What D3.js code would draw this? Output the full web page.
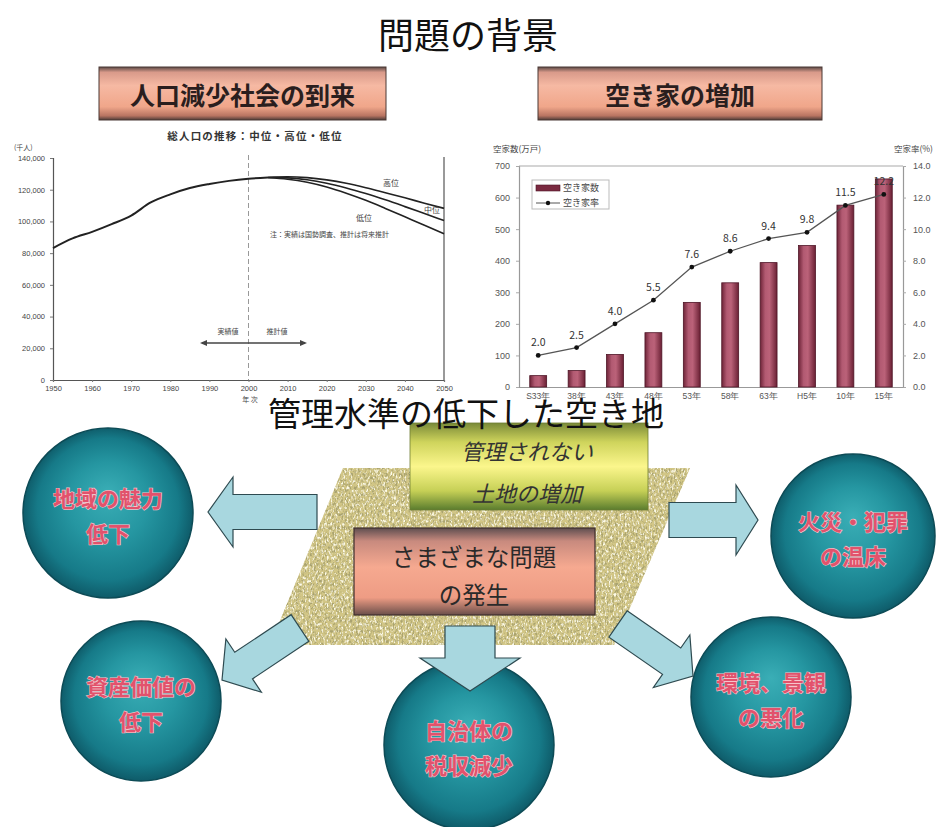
<!DOCTYPE html>
<html lang="ja">
<head>
<meta charset="utf-8">
<script src="https://cdn.jsdelivr.net/npm/d3@7/dist/d3.min.js"></script>
<style>
  html, body { margin: 0; padding: 0; background: #ffffff; }
  svg { display: block; font-family: "Noto Sans CJK JP", "Noto Sans", sans-serif; }
</style>
</head>
<body>
<script>
// ---- 総人口の推移 (千人) ----
const popYearsActual = [1950, 1955, 1960, 1965, 1970, 1975, 1980, 1985, 1990, 1995, 2000, 2005];
const popActual      = [83200, 89276, 93419, 98275, 103720, 111940, 117060, 121049, 123611, 125570, 126926, 127708];
const projYears = [2005, 2010, 2015, 2020, 2025, 2030, 2035, 2040, 2045, 2050];
const popHigh   = [127900, 128140, 127600, 126200, 124100, 121300, 118100, 114900, 111500, 108254];
const popMid    = [127708, 127473, 126266, 124107, 121136, 117580, 113602, 109338, 104960, 100593];
const popLow    = [127500, 126600, 124700, 121700, 117800, 113300, 108200, 102900, 97600, 92203];
const popTicks  = [0, 20000, 40000, 60000, 80000, 100000, 120000, 140000];
const yearTicks = [1950, 1960, 1970, 1980, 1990, 2000, 2010, 2020, 2030, 2040, 2050];

// ---- 空き家数 (万戸) と 空き家率 (%) ----
const houseCats     = ["S33年", "38年", "43年", "48年", "53年", "58年", "63年", "H5年", "10年", "15年"];
const vacantHouses  = [36, 52, 103, 172, 268, 330, 394, 448, 576, 659];
const vacancyRate   = [2.0, 2.5, 4.0, 5.5, 7.6, 8.6, 9.4, 9.8, 11.5, 12.2];
const houseTicks    = [0, 100, 200, 300, 400, 500, 600, 700];
const rateTicks     = [0, 2, 4, 6, 8, 10, 12, 14];

// ---- 問題の連鎖 ----
const outcomeLines = [
  ["地域の魅力", "低下"],
  ["火災・犯罪", "の温床"],
  ["資産価値の", "低下"],
  ["自治体の", "税収減少"],
  ["環境、景観", "の悪化"]
];

const W = 936, H = 827;
const svg = d3.select("body").append("svg").attr("width", W).attr("height", H);
const defs = svg.append("defs");

// gradients
function vGrad(id, stops) {
  const g = defs.append("linearGradient").attr("id", id)
    .attr("x1", 0).attr("y1", 0).attr("x2", 0).attr("y2", 1);
  stops.forEach(([o, c]) => g.append("stop").attr("offset", o).attr("stop-color", c));
}
vGrad("banner", [[0, "#5c4a46"], [0.1, "#d99a8a"], [0.35, "#f6b9a3"], [0.75, "#f0a68a"], [0.92, "#b87462"], [1, "#4e3c38"]]);
vGrad("yellowBox", [[0, "#7a8a38"], [0.22, "#cfd45c"], [0.5, "#fbf68c"], [0.78, "#c6d056"], [1, "#5a7c2e"]]);
vGrad("salmonBox", [[0, "#5e4e50"], [0.15, "#c88a7e"], [0.45, "#f6a990"], [0.8, "#ee9c84"], [1, "#6a4e4a"]]);

const barGrad = defs.append("linearGradient").attr("id", "barGrad")
  .attr("x1", 0).attr("y1", 0).attr("x2", 1).attr("y2", 0);
[[0, "#6e2438"], [0.3, "#b25a72"], [0.55, "#bb6279"], [1, "#6a2034"]]
  .forEach(([o, c]) => barGrad.append("stop").attr("offset", o).attr("stop-color", c));

const sphere = defs.append("radialGradient").attr("id", "sphere")
  .attr("cx", "50%").attr("cy", "50%").attr("r", "52%").attr("fx", "50%").attr("fy", "38%");
[[0, "#3aaeb6"], [0.45, "#2596a1"], [0.8, "#167a88"], [1, "#0d5563"]]
  .forEach(([o, c]) => sphere.append("stop").attr("offset", o).attr("stop-color", c));

// grainy beige texture for the vacant-land plot
const grain = defs.append("filter").attr("id", "grain")
  .attr("x", 0).attr("y", 0).attr("width", "100%").attr("height", "100%");
grain.append("feTurbulence").attr("type", "fractalNoise").attr("baseFrequency", "0.55 0.3")
  .attr("numOctaves", 3).attr("seed", 11).attr("result", "noise");
grain.append("feColorMatrix").attr("in", "noise").attr("type", "matrix")
  .attr("values", "0 0 0 0 0.40  0 0 0 0 0.37  0 0 0 0 0.16  4 0 0 0 -1.85")
  .attr("result", "dark");
grain.append("feColorMatrix").attr("in", "noise").attr("type", "matrix")
  .attr("values", "0 0 0 0 0.98  0 0 0 0 0.96  0 0 0 0 0.80  0 -4 0 0 1.9")
  .attr("result", "light");
grain.append("feComposite").attr("in", "dark").attr("in2", "SourceGraphic").attr("operator", "in").attr("result", "darkIn");
grain.append("feComposite").attr("in", "light").attr("in2", "SourceGraphic").attr("operator", "in").attr("result", "lightIn");
const merge = grain.append("feMerge");
merge.append("feMergeNode").attr("in", "SourceGraphic");
merge.append("feMergeNode").attr("in", "darkIn");
merge.append("feMergeNode").attr("in", "lightIn");

// ---- 見出し ----
svg.append("text").attr("x", 468).attr("y", 49).attr("text-anchor", "middle")
  .attr("font-size", 36).attr("fill", "#111").text("問題の背景");

function banner(x, w, label) {
  svg.append("rect").attr("x", x).attr("y", 67).attr("width", w).attr("height", 53)
    .attr("fill", "url(#banner)").attr("stroke", "#4a3834").attr("stroke-width", 1);
  svg.append("text").attr("x", x + w / 2).attr("y", 94).attr("text-anchor", "middle")
    .attr("dominant-baseline", "central").attr("font-size", 25).attr("font-weight", 700)
    .attr("fill", "#2a1e1e").text(label);
}
banner(99, 287, "人口減少社会の到来");
banner(538, 284, "空き家の増加");

// ---- 左: 総人口の推移 ----
const px = d3.scaleLinear().domain([1950, 2050]).range([53, 444]);
const py = d3.scaleLinear().domain([0, 140000]).range([380, 158]);
const lc = svg.append("g").attr("fill", "#444");

lc.append("text").attr("x", 255).attr("y", 140).attr("text-anchor", "middle")
  .attr("font-size", 10.5).attr("font-weight", 700).attr("letter-spacing", 1.2)
  .attr("fill", "#333").text("総人口の推移：中位・高位・低位");
lc.append("text").attr("x", 14).attr("y", 150).attr("font-size", 7).text("(千人)");

const pyAxis = lc.append("g").attr("transform", "translate(53,0)")
  .call(d3.axisLeft(py).tickValues(popTicks).tickFormat(d3.format(",")).tickSize(3));
pyAxis.select(".domain").attr("stroke", "#555").attr("stroke-width", 1.2);
pyAxis.selectAll(".tick line").attr("stroke", "#777");
pyAxis.selectAll("text").attr("font-size", 7.5).attr("fill", "#444").attr("x", -8);

const pxAxis = lc.append("g").attr("transform", "translate(0,380)")
  .call(d3.axisBottom(px).tickValues(yearTicks).tickFormat(d3.format("d")).tickSize(2));
pxAxis.select(".domain").attr("stroke", "#555").attr("stroke-width", 1.2);
pxAxis.selectAll(".tick line").attr("stroke", "#777");
pxAxis.selectAll("text").attr("font-size", 7.5).attr("fill", "#444").attr("y", 6);

lc.append("line").attr("x1", 444).attr("x2", 444).attr("y1", 157).attr("y2", 380)
  .attr("stroke", "#555").attr("stroke-width", 1.2);
lc.append("line").attr("x1", px(2000)).attr("x2", px(2000)).attr("y1", 155).attr("y2", 380)
  .attr("stroke", "#999").attr("stroke-dasharray", "5,3");
lc.append("text").attr("x", 250).attr("y", 402).attr("text-anchor", "middle")
  .attr("font-size", 7).text("年 次");

const popLine = d3.line().curve(d3.curveMonotoneX);
lc.append("path").attr("d", popLine(popYearsActual.map((y, i) => [px(y), py(popActual[i])])))
  .attr("fill", "none").attr("stroke", "#222").attr("stroke-width", 2);
[popHigh, popMid, popLow].forEach(series => {
  lc.append("path").attr("d", popLine(projYears.map((y, i) => [px(y), py(series[i])])))
    .attr("fill", "none").attr("stroke", "#222").attr("stroke-width", 1.6);
});
lc.append("text").attr("x", 383).attr("y", 186).attr("font-size", 8).text("高位");
lc.append("text").attr("x", 424).attr("y", 213).attr("font-size", 8).text("中位");
lc.append("text").attr("x", 356).attr("y", 221).attr("font-size", 8).text("低位");
lc.append("text").attr("x", 270).attr("y", 237).attr("font-size", 7).text("注：実績は国勢調査、推計は将来推計");

// 実績値 / 推計値 の矢印
const arrY = 343;
lc.append("line").attr("x1", 202).attr("x2", 305).attr("y1", arrY).attr("y2", arrY)
  .attr("stroke", "#444").attr("stroke-width", 1.3);
lc.append("path").attr("d", `M200,${arrY} l7,-3 v6 z`).attr("fill", "#444");
lc.append("path").attr("d", `M307,${arrY} l-7,-3 v6 z`).attr("fill", "#444");
lc.append("text").attr("x", 228).attr("y", 334).attr("text-anchor", "middle").attr("font-size", 7).text("実績値");
lc.append("text").attr("x", 277).attr("y", 334).attr("text-anchor", "middle").attr("font-size", 7).text("推計値");

// ---- 右: 空き家数と空き家率 ----
const hx = d3.scaleBand().domain(houseCats).range([519, 903]).paddingInner(0.56).paddingOuter(0.28);
const hy = d3.scaleLinear().domain([0, 700]).range([387, 166]);
const ry = d3.scaleLinear().domain([0, 14]).range([387, 166]);
const rc = svg.append("g").attr("fill", "#444");

rc.append("text").attr("x", 493).attr("y", 152).attr("font-size", 8.5).text("空家数(万戸)");
rc.append("text").attr("x", 933).attr("y", 152).attr("text-anchor", "end").attr("font-size", 8.5).text("空家率(%)");

const hyAxis = rc.append("g").attr("transform", "translate(519,0)")
  .call(d3.axisLeft(hy).tickValues(houseTicks).tickSize(3));
const ryAxis = rc.append("g").attr("transform", "translate(903,0)")
  .call(d3.axisRight(ry).tickValues(rateTicks).tickFormat(d3.format(".1f")).tickSize(3));
const hxAxis = rc.append("g").attr("transform", "translate(0,387)")
  .call(d3.axisBottom(hx).tickSize(0));
[hyAxis, ryAxis, hxAxis].forEach(a => {
  a.select(".domain").attr("stroke", "#999").attr("stroke-width", 1.2);
  a.selectAll(".tick line").attr("stroke", "#aaa");
  a.selectAll("text").attr("font-size", 9).attr("fill", "#555");
});
hyAxis.selectAll("text").attr("x", -9);
ryAxis.selectAll("text").attr("x", 10);
hxAxis.selectAll("text").attr("y", 6).attr("font-size", 8.5);
rc.append("line").attr("x1", 519).attr("x2", 903).attr("y1", 166).attr("y2", 166)
  .attr("stroke", "#aaa").attr("stroke-width", 1.2);

rc.selectAll("rect.bar").data(vacantHouses).join("rect").attr("class", "bar")
  .attr("x", (d, i) => hx(houseCats[i]))
  .attr("y", d => hy(d))
  .attr("width", hx.bandwidth())
  .attr("height", d => hy(0) - hy(d))
  .attr("fill", "url(#barGrad)").attr("stroke", "#4e1426").attr("stroke-width", 0.8);

const cx = c => hx(c) + hx.bandwidth() / 2;
rc.append("path")
  .attr("d", d3.line()(vacancyRate.map((v, i) => [cx(houseCats[i]), ry(v)])))
  .attr("fill", "none").attr("stroke", "#555").attr("stroke-width", 1.3);
rc.selectAll("circle.pt").data(vacancyRate).join("circle").attr("class", "pt")
  .attr("cx", (d, i) => cx(houseCats[i])).attr("cy", d => ry(d)).attr("r", 2.4).attr("fill", "#111");
rc.selectAll("text.val").data(vacancyRate).join("text").attr("class", "val")
  .attr("x", (d, i) => cx(houseCats[i])).attr("y", d => ry(d) - 9)
  .attr("text-anchor", "middle").attr("font-size", 10.5).attr("fill", "#333")
  .text(d => d3.format(".1f")(d));

// 凡例
const lg = rc.append("g");
lg.append("rect").attr("x", 532).attr("y", 180).attr("width", 77).attr("height", 29)
  .attr("fill", "#fff").attr("stroke", "#bbb");
lg.append("rect").attr("x", 536).attr("y", 185).attr("width", 24).attr("height", 6)
  .attr("fill", "#7a2a40").attr("stroke", "#4e1426").attr("stroke-width", 0.6);
lg.append("text").attr("x", 563).attr("y", 191).attr("font-size", 9).text("空き家数");
lg.append("line").attr("x1", 536).attr("x2", 560).attr("y1", 203).attr("y2", 203).attr("stroke", "#555");
lg.append("circle").attr("cx", 548).attr("cy", 203).attr("r", 2.2).attr("fill", "#111");
lg.append("text").attr("x", 563).attr("y", 206).attr("font-size", 9).text("空き家率");

// ---- 下段: 管理されない土地と問題 ----
const bottom = svg.append("g");
const plot = [[343, 468], [690, 468], [614, 645], [270, 645]];
bottom.append("polygon").attr("points", plot.map(p => p.join(",")).join(" "))
  .attr("fill", "#d2c686").attr("filter", "url(#grain)");

// 左右の矢印
function arrowShape(len, bh, hh, hl) {
  return `M0,${-bh} L${len - hl},${-bh} L${len - hl},${-hh} L${len},0 L${len - hl},${hh} L${len - hl},${bh} L0,${bh} Z`;
}
function arrow(g, x1, y1, x2, y2, bh, hh, hl) {
  const len = Math.hypot(x2 - x1, y2 - y1);
  const ang = Math.atan2(y2 - y1, x2 - x1) * 180 / Math.PI;
  g.append("path").attr("d", arrowShape(len, bh, hh, hl))
    .attr("transform", `translate(${x1},${y1}) rotate(${ang})`)
    .attr("fill", "#a8d7df").attr("stroke", "#2e4a50").attr("stroke-width", 1.2)
    .attr("stroke-linejoin", "miter");
}
arrow(bottom, 317, 512, 208, 512, 17.5, 35, 25);
arrow(bottom, 669, 520, 758, 520, 17.5, 35, 22);

// 中央のボックス
bottom.append("rect").attr("x", 410).attr("y", 423).attr("width", 238).attr("height", 87)
  .attr("fill", "url(#yellowBox)").attr("stroke", "#6f7d34").attr("stroke-width", 0.8);
bottom.append("text").attr("x", 527).attr("y", 450).attr("text-anchor", "middle")
  .attr("dominant-baseline", "central").attr("font-size", 22).attr("font-style", "italic")
  .attr("fill", "#333").text("管理されない");
bottom.append("text").attr("x", 527).attr("y", 492).attr("text-anchor", "middle")
  .attr("dominant-baseline", "central").attr("font-size", 22).attr("font-style", "italic")
  .attr("fill", "#333").text("土地の増加");

bottom.append("rect").attr("x", 354).attr("y", 528).attr("width", 241).attr("height", 87)
  .attr("fill", "url(#salmonBox)").attr("stroke", "#3e2e2e").attr("stroke-width", 1.2);
bottom.append("text").attr("x", 474).attr("y", 556).attr("text-anchor", "middle")
  .attr("dominant-baseline", "central").attr("font-size", 23.5).attr("fill", "#2a2a2a").text("さまざまな問題");
bottom.append("text").attr("x", 474).attr("y", 594).attr("text-anchor", "middle")
  .attr("dominant-baseline", "central").attr("font-size", 23.5).attr("fill", "#2a2a2a").text("の発生");

// 問題の球
const spheres = [
  { cx: 108, cy: 513, r: 85 },
  { cx: 853, cy: 536, r: 82 },
  { cx: 141, cy: 701, r: 80 },
  { cx: 469, cy: 745, r: 85 },
  { cx: 771, cy: 697, r: 80 }
];
spheres.forEach((s, i) => {
  bottom.append("circle").attr("cx", s.cx).attr("cy", s.cy).attr("r", s.r)
    .attr("fill", "url(#sphere)").attr("stroke", "#0d4b56").attr("stroke-width", 1.5);
  outcomeLines[i].forEach((t, j) => {
    bottom.append("text").attr("x", s.cx).attr("y", s.cy - 16 + j * 35)
      .attr("text-anchor", "middle").attr("dominant-baseline", "central")
      .attr("font-size", 22).attr("font-weight", 700)
      .attr("fill", "#e2526c").attr("stroke", "#f6c4cb").attr("stroke-width", 1.2)
      .attr("paint-order", "stroke").text(t);
  });
});

// 下向きの矢印
arrow(bottom, 300, 628, 222, 680, 16, 32, 26);
arrow(bottom, 470, 626, 470, 691, 25, 50, 33);
arrow(bottom, 618, 624, 693, 676, 16, 32, 26);

// 大見出し
svg.append("text").attr("x", 466).attr("y", 412).attr("text-anchor", "middle")
  .attr("dominant-baseline", "central").attr("font-size", 33).attr("fill", "#111")
  .text("管理水準の低下した空き地");
</script>
</body>
</html>
